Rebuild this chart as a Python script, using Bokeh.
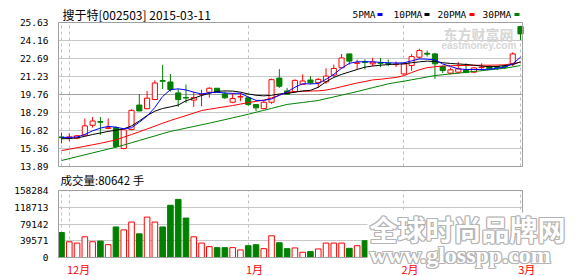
from bokeh.plotting import figure
from bokeh.models import FixedTicker, NumeralTickFormatter, ColumnDataSource, Range1d
from bokeh.core.properties import value
from bokeh.layouts import column
from bokeh.embed import file_html
from bokeh.resources import INLINE

# ---------------- data ----------------
opens = [16.30, 16.22, 16.20, 16.45, 17.25, 17.56, 17.00, 17.05, 15.36, 16.90,
         18.90, 18.60, 19.35, 20.90, 20.78, 19.89, 19.52, 19.30, 19.74, 19.94,
         20.27, 19.81, 19.13, 19.55, 19.49, 18.94, 18.61, 19.13, 21.10, 20.05,
         19.99, 20.59, 20.94, 20.72, 20.80, 21.34, 21.94, 23.07, 22.30, 22.42,
         22.26, 22.35, 22.31, 22.20, 21.44, 22.12, 22.80, 23.12, 23.07, 22.04,
         21.50, 21.58, 21.75, 21.58, 21.95, 22.04, 22.02, 22.05, 22.26, 25.30]
highs = [16.66, 16.60, 16.45, 17.80, 17.92, 17.92, 17.80, 17.15, 16.95, 18.55,
         19.80, 20.05, 20.92, 22.18, 21.43, 20.21, 20.56, 19.95, 20.16, 20.35,
         20.27, 20.00, 19.86, 19.89, 19.62, 18.94, 19.25, 21.05, 21.83, 20.30,
         21.00, 21.40, 21.26, 21.10, 21.90, 22.20, 23.06, 23.07, 22.60, 22.62,
         22.75, 22.75, 22.61, 22.45, 22.35, 23.05, 23.50, 23.35, 23.15, 22.12,
         21.95, 22.40, 22.30, 21.98, 22.30, 22.15, 22.10, 22.20, 23.20, 25.35]
lows = [15.77, 15.95, 16.12, 16.40, 17.06, 16.47, 16.93, 15.45, 15.30, 16.85,
        18.40, 18.55, 19.30, 20.21, 19.99, 18.75, 19.07, 18.75, 18.80, 19.50,
        19.90, 19.40, 19.05, 19.21, 18.85, 18.40, 18.55, 19.00, 20.30, 19.75,
        19.90, 20.54, 20.59, 20.30, 20.62, 21.18, 21.88, 22.20, 21.80, 21.80,
        22.07, 21.99, 22.07, 21.99, 21.40, 21.70, 22.70, 22.85, 21.04, 21.50,
        21.40, 21.45, 21.50, 21.50, 21.70, 21.80, 21.75, 21.85, 22.05, 24.20]
closes = [16.24, 16.30, 16.40, 17.20, 17.60, 17.50, 17.05, 15.52, 16.88, 18.47,
          18.42, 19.46, 20.70, 20.84, 20.16, 19.35, 19.47, 19.51, 19.78, 20.27,
          19.94, 19.49, 19.43, 19.59, 18.94, 18.67, 19.13, 20.97, 20.43, 19.78,
          20.91, 20.86, 20.72, 20.99, 21.26, 21.88, 22.74, 22.48, 22.34, 22.38,
          22.40, 22.30, 22.27, 22.22, 22.26, 22.85, 23.34, 23.05, 22.26, 21.71,
          21.77, 21.85, 21.55, 21.93, 22.00, 21.85, 21.97, 22.00, 23.07, 24.70]

ma5 = [16.26, 16.27, 16.30, 16.50, 16.80, 17.02, 17.16, 17.10, 16.96, 17.05,
       17.50, 18.00, 18.70, 19.60, 20.15, 20.22, 20.13, 19.95, 19.80, 19.90,
       19.95, 19.88, 19.85, 19.86, 19.55, 19.28, 19.28, 19.40, 19.70, 19.98,
       20.35, 20.64, 20.62, 20.66, 21.00, 21.40, 21.90, 22.30, 22.43, 22.43,
       22.43, 22.38, 22.34, 22.33, 22.34, 22.50, 22.66, 22.64, 22.58, 22.25,
       22.05, 21.85, 21.80, 21.80, 21.80, 21.82, 21.90, 22.00, 22.26, 22.80]
ma10 = [16.15, 16.17, 16.22, 16.35, 16.50, 16.62, 16.75, 16.85, 16.96, 17.20,
        17.60, 18.05, 18.40, 18.62, 18.75, 18.90, 19.25, 19.45, 19.68, 19.85,
        20.02, 20.05, 20.04, 19.95, 19.80, 19.70, 19.65, 19.70, 19.80, 19.85,
        19.95, 20.05, 20.10, 20.35, 20.80, 21.15, 21.40, 21.60, 21.80, 21.99,
        22.08, 22.15, 22.20, 22.24, 22.26, 22.35, 22.42, 22.48, 22.45, 22.35,
        22.29, 22.25, 22.21, 22.15, 22.08, 22.02, 22.05, 22.12, 22.20, 22.43]
ma20 = [15.19, 15.30, 15.42, 15.54, 15.66, 15.78, 15.92, 16.06, 16.28, 16.50,
        16.72, 16.95, 17.18, 17.42, 17.64, 17.84, 18.04, 18.24, 18.45, 18.56,
        18.66, 18.76, 18.86, 18.98, 19.10, 19.20, 19.30, 19.48, 19.70, 19.92,
        20.00, 20.02, 20.04, 20.06, 20.12, 20.25, 20.40, 20.55, 20.70, 20.82,
        20.95, 21.00, 21.08, 21.15, 21.30, 21.55, 21.78, 21.95, 22.02, 22.08,
        22.10, 22.12, 22.13, 22.14, 22.15, 22.15, 22.16, 22.18, 22.28, 22.39]
ma30 = [14.38, 14.53, 14.69, 14.84, 15.00, 15.15, 15.31, 15.46, 15.64, 15.83,
        16.01, 16.20, 16.38, 16.57, 16.75, 16.88, 17.02, 17.15, 17.29, 17.42,
        17.57, 17.71, 17.86, 18.00, 18.15, 18.31, 18.47, 18.63, 18.79, 18.95,
        19.03, 19.11, 19.19, 19.27, 19.42, 19.56, 19.71, 19.85, 20.00, 20.16,
        20.32, 20.47, 20.63, 20.74, 20.84, 20.96, 21.07, 21.19, 21.30, 21.37,
        21.44, 21.50, 21.57, 21.64, 21.70, 21.77, 21.84, 21.90, 22.01, 22.12]

# volumes that are visible (the later bars are hidden under the watermark)
volumes = [58900, 37200, 34100, 48900, 37200, 38800, 30300, 72200, 65200, 83800,
           55900, 95400, 83800, 72200, 123400, 137300, 93100, 48900, 34100, 25600,
           23300, 23300, 23300, 17900, 27900, 30300, 20900, 51200, 34900, 20900,
           22600, 12400, 14000, 20200, 34100, 34100, 34100, 21700, 27900, 39600]

price_ticks = [13.89, 15.36, 16.82, 18.29, 19.76, 21.23, 22.69, 24.16, 25.63]
vol_ticks = [0, 39571, 79142, 118713, 158284]
month_idx = [1, 24, 44, 59]
month_labels = ["12月", "1月", "2月", "3月"]
vline_idx = [0, 1, 24, 44, 59]
legend_names = ["5PMA", "10PMA", "20PMA", "30PMA"]
legend_colors = ["#0000ff", "#000000", "#ff0000", "#008000"]
title_text = "搜于特[002503] 2015-03-11"
vol_title = "成交量:80642 手"
wm1 = ["东方财富网", "eastmoney.com"]
wm2 = ["全球时尚品牌网", "www.glosspp.com"]

# ---------------- layout helpers (page pixels -> data) ----------------
RED = "#ff0000"
GREEN = "#008000"
GRID = "#c8c8c8"
BOX = "#a0a0a0"
MONO = "DejaVu Sans Mono"
CJK = "Noto Sans CJK SC"
STEP = 7.78          # px per candle
X_FIRST = 61.0       # px of first candle
PY_SCALE = 144 / (price_ticks[-1] - price_ticks[0])
VOL_SCALE = vol_ticks[-1] / 67.0
PRICE_H = 171
VOL_H = 276 - PRICE_H


def X(px):
    return (px - X_FIRST) / STEP


def P(py):
    return price_ticks[0] + (166 - py) / PY_SCALE


def V(py):
    return (257 - py) * VOL_SCALE


box_l, box_r = X(58), X(522)

n = len(closes)
idx = list(range(n))
up = [c >= o for o, c in zip(opens, closes)]
src = ColumnDataSource(dict(
    x=idx, o=opens, h=highs, l=lows, c=closes,
    top=[max(o, c) for o, c in zip(opens, closes)],
    bot=[min(o, c) for o, c in zip(opens, closes)],
    fill=["white" if u else GREEN for u in up],
    line=[RED if u else GREEN for u in up],
))

xr = Range1d(X(57), X(578))


def style_yaxis(fig, ticks, fmt):
    fig.yaxis.ticker = FixedTicker(ticks=ticks)
    fig.yaxis.formatter = NumeralTickFormatter(format=fmt)
    fig.yaxis.axis_line_color = None
    fig.yaxis.major_tick_line_color = None
    fig.yaxis.minor_tick_line_color = None
    fig.yaxis.major_label_standoff = 3
    fig.yaxis.major_label_text_font = MONO
    fig.yaxis.major_label_text_font_size = "9.5px"
    fig.yaxis.major_label_text_color = "#000000"


# ---------------- price figure ----------------
p = figure(width=578, height=PRICE_H, output_backend="svg", toolbar_location=None,
           x_range=xr, y_range=Range1d(P(PRICE_H), P(0)), x_axis_location=None,
           min_border_left=57, min_border_right=0, min_border_top=0, min_border_bottom=0)
p.outline_line_color = None
style_yaxis(p, price_ticks, "0.00")
p.ygrid.ticker = FixedTicker(ticks=price_ticks)
p.ygrid.grid_line_color = GRID
p.ygrid.cross_bounds = (box_l, box_r)
p.xgrid.ticker = FixedTicker(ticks=vline_idx)
p.xgrid.grid_line_color = "#c0c0c0"
p.xgrid.grid_line_dash = "3 3"
p.xgrid.cross_bounds = (price_ticks[0], price_ticks[-1])

# eastmoney watermark
p.text(x=[X(443)], y=[P(33.5)], text=[wm1[0]], text_font=value(CJK),
       text_font_size=value("14px"), text_font_style="bold", text_color="#d6d6d6",
       text_align="left", text_baseline="middle")
p.text(x=[X(441)], y=[P(44.5)], text=[wm1[1]], text_font=value("Liberation Sans"),
       text_font_size=value("10px"), text_font_style="bold", text_color="#d6d6d6",
       text_align="left", text_baseline="middle")

# middle reference line
p.segment(x0=[box_l], y0=[price_ticks[4]], x1=[box_r], y1=[price_ticks[4]],
          line_color=BOX, line_width=1)

p.segment(x0="x", y0="l", x1="x", y1="h", source=src, line_color="line", line_width=1)
p.vbar(x="x", width=0.66, top="top", bottom="bot", source=src,
       fill_color="fill", line_color="line", line_width=1)

for ma, col in zip([ma30, ma20, ma10, ma5], ["#008000", "#ff0000", "#000000", "#0000ff"]):
    p.line(idx, ma, line_color=col, line_width=1)

p.quad(left=[box_l], right=[box_r], bottom=[price_ticks[0]], top=[price_ticks[-1]],
       fill_color=None, line_color=BOX, line_width=1)

p.text(x=[X(62)], y=[P(13.5)], text=[title_text], text_font=value(CJK),
       text_font_size=value("12px"), text_color="#000000",
       text_align="left", text_baseline="middle")
leg_x = [352, 393, 437, 482]
mark_x = [379.5, 426.5, 471.5, 516.5]
p.text(x=[X(v) for v in leg_x], y=[P(14)] * 4, text=legend_names, text_font=value(MONO),
       text_font_size=value("9.5px"), text_color="#000000",
       text_align="left", text_baseline="middle")
p.rect(x=[X(v) for v in mark_x], y=[P(14)] * 4, width=5, height=3,
       width_units="screen", height_units="screen",
       fill_color=legend_colors, line_color=None)

# ---------------- volume figure ----------------
vsrc = ColumnDataSource(dict(
    x=idx[:len(volumes)], v=volumes,
    fill=["white" if u else GREEN for u in up[:len(volumes)]],
    line=[RED if u else GREEN for u in up[:len(volumes)]],
))
v = figure(width=578, height=VOL_H, output_backend="svg", toolbar_location=None,
           x_range=xr, y_range=Range1d(V(276), V(PRICE_H)), x_axis_location=None,
           min_border_left=57, min_border_right=0, min_border_top=0, min_border_bottom=0)
v.outline_line_color = None
style_yaxis(v, vol_ticks, "0")
v.ygrid.ticker = FixedTicker(ticks=vol_ticks)
v.ygrid.grid_line_color = GRID
v.ygrid.cross_bounds = (box_l, box_r)
v.xgrid.ticker = FixedTicker(ticks=vline_idx)
v.xgrid.grid_line_color = "#c0c0c0"
v.xgrid.grid_line_dash = "3 3"
v.xgrid.cross_bounds = (vol_ticks[0], vol_ticks[-1])

v.vbar(x="x", width=0.72, top="v", bottom=0, source=vsrc,
       fill_color="fill", line_color="line", line_width=1)
v.quad(left=[box_l], right=[box_r], bottom=[vol_ticks[0]], top=[vol_ticks[-1]],
       fill_color=None, line_color=BOX, line_width=1)

v.text(x=[X(60)], y=[V(179.5)], text=[vol_title], text_font=value(CJK),
       text_font_size=value("11.5px"), text_color="#000000",
       text_align="left", text_baseline="middle")
v.text(x=[m - 0.3 for m in month_idx], y=[V(268)] * len(month_idx), text=month_labels,
       text_font=value(CJK), text_font_size=value("11px"), text_color=RED,
       text_align="left", text_baseline="middle")

# glosspp watermark: white backing + outlined text
v.quad(left=[X(367)], right=[X(566)], bottom=[V(263)], top=[V(212)],
       fill_color="white", line_color=None)
wm_y = [V(228), V(254)]
wm_font = [CJK, "Liberation Serif"]
wm_size = ["28px", "24px"]
for txt, yy, fnt, fs in zip(wm2, wm_y, wm_font, wm_size):
    for dx, dy in [(-1, 0), (1, 0), (0, -1), (0, 1), (-1, -1), (1, 1), (-1, 1), (1, -1)]:
        v.text(x=[X(369)], y=[yy], text=[txt], x_offset=dx, y_offset=dy,
               text_font=value(fnt), text_font_size=value(fs), text_font_style="bold",
               text_color="#b4b4b4", text_align="left", text_baseline="middle")
    v.text(x=[X(369)], y=[yy], text=[txt],
           text_font=value(fnt), text_font_size=value(fs), text_font_style="bold",
           text_color="white", text_align="left", text_baseline="middle")

layout = column(p, v, spacing=0)
open("out.html", "w").write(file_html(layout, INLINE))
